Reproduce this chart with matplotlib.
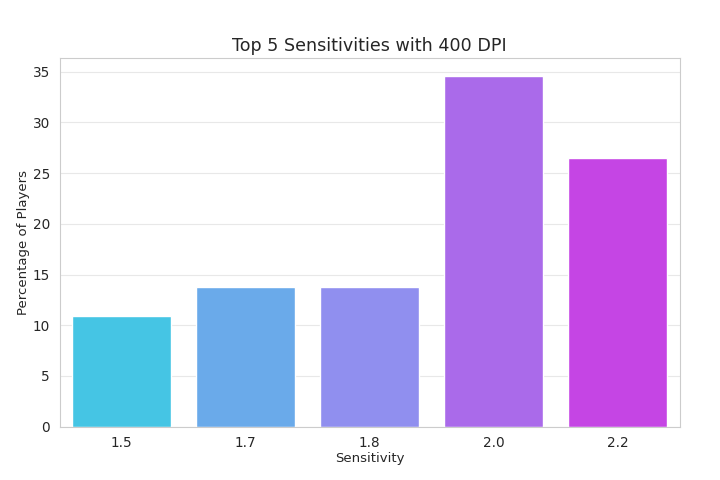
import matplotlib
matplotlib.use("Agg")
import matplotlib.pyplot as plt
import seaborn as sns
import pandas as pd

sensitivities = ["1.5", "1.7", "1.8", "2.0", "2.2"]
percentages = [10.9, 13.8, 13.8, 34.6, 26.5]

sns.set_style("whitegrid", {"grid.color": "#e8e8e8"})
plt.rcParams['font.family'] = ['DejaVu Sans']

df = pd.DataFrame({"Sensitivity": sensitivities, "Percentage": percentages})

fig, ax = plt.subplots(figsize=(7.2, 4.8), dpi=100)
sns.barplot(data=df, x="Sensitivity", y="Percentage", hue="Sensitivity",
            palette="cool", legend=False, ax=ax)
ax.set_title("Top 5 Sensitivities with 400 DPI", fontsize=12.6, pad=5)
ax.set_xlabel("Sensitivity", fontsize=9.5, labelpad=1)
ax.set_ylabel("Percentage of Players", fontsize=9.5, labelpad=2)
ax.tick_params(labelsize=9.8)
fig.subplots_adjust(left=0.083, right=0.944, top=0.879, bottom=0.111)
fig.savefig("out.png", dpi=100)
